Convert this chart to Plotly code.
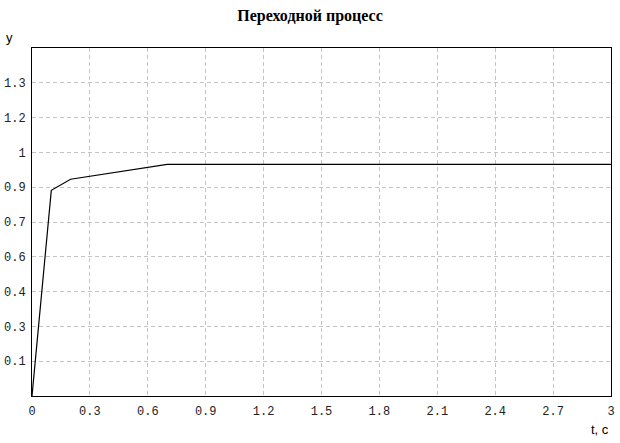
import plotly.graph_objects as go

# transient response
t = [0, 0.1, 0.2, 0.3, 0.4, 0.5, 0.6, 0.7, 3.0]
y = [0, 0.857, 0.903, 0.915, 0.928, 0.941, 0.954, 0.965, 0.965]

x_ticks = [0, 0.3, 0.6, 0.9, 1.2, 1.5, 1.8, 2.1, 2.4, 2.7, 3]
x_labels = ['0', '0.3', '0.6', '0.9', '1.2', '1.5', '1.8', '2.1', '2.4', '2.7', '3']
# y grid splits 0..1.45 into ten steps, labels are rounded to one digit
y_ticks = [0.145, 0.29, 0.435, 0.58, 0.725, 0.87, 1.015, 1.16, 1.305]
y_labels = ['0.1', '0.3', '0.4', '0.6', '0.7', '0.9', '1', '1.2', '1.3']

fig = go.Figure()

fig.add_trace(go.Scatter(
    x=t, y=y,
    mode='lines',
    line=dict(color='black', width=1.2),
    showlegend=False,
    hoverinfo='skip'
))

axis_style = dict(
    showline=True, mirror=True, linecolor='black', linewidth=1,
    showgrid=True, gridcolor='#c4c4c4', gridwidth=1, griddash='4px,3px',
    zeroline=False, ticks='', automargin=False,
    tickfont=dict(family='Courier New, Liberation Mono, monospace', size=12, color='#222'),
)

fig.update_xaxes(range=[0, 3], tickvals=x_ticks, ticktext=x_labels, ticklabelstandoff=4, **axis_style)
fig.update_yaxes(range=[0, 1.45], tickvals=y_ticks, ticktext=y_labels, ticklabelstandoff=3, **axis_style)

fig.add_annotation(text='y', xref='paper', yref='paper', x=-0.048, y=1.004,
                   xanchor='left', yanchor='bottom', showarrow=False,
                   font=dict(family='Liberation Sans, Arial', size=13, color='black'))
fig.add_annotation(text='t, c', xref='paper', yref='paper', x=1.0, y=-0.07,
                   xanchor='right', yanchor='top', showarrow=False,
                   font=dict(family='Liberation Sans, Arial', size=13, color='black'))

fig.update_layout(
    title=dict(text='<b>Переходной процесс</b>', x=0.5, xanchor='center', y=0.978, yanchor='top',
               font=dict(family='Liberation Serif, Times New Roman, serif', size=16, color='black')),
    width=620, height=443,
    margin=dict(l=32, r=9, t=48, b=47),
    paper_bgcolor='white', plot_bgcolor='white',
)

# drop the default page margin so the figure sits at the window corner
fig.write_html("out.html", config={'displayModeBar': False},
               post_script="document.body.style.margin='0';")
